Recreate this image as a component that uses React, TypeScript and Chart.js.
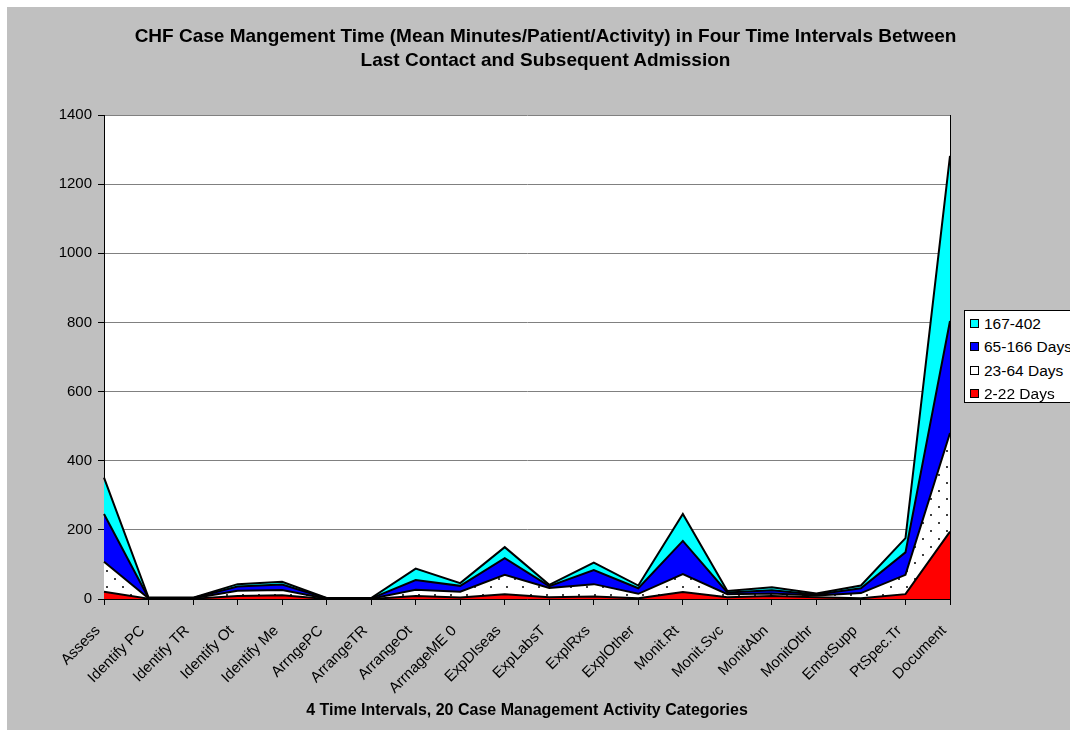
import React, { useEffect, useRef } from "react";
import { Chart, registerables } from "chart.js";

Chart.register(...registerables);

// Activity categories along the x axis
const categories = [
  "Assess", "Identify PC", "Identify TR", "Identify Ot", "Identify Me",
  "ArrngePC", "ArrangeTR", "ArrangeOt", "ArrnageME 0", "ExpDIseas",
  "ExpLabsT", "ExplRxs", "ExplOther", "Monit.Rt", "Monit.Svc",
  "MonitAbn", "MonitOthr", "EmotSupp", "PtSpec.Tr", "Document",
];

// Mean minutes per patient per activity, one array per time interval (stacked)
const days2to22 = [21, 1, 1, 9, 11, 0, 0, 9, 4, 14, 5, 7, 2, 20, 5, 9, 5, 2, 14, 195];
const days23to64 = [87, 1, 1, 15, 15, 1, 1, 18, 17, 56, 27, 36, 13, 52, 9, 7, 5, 15, 56, 285];
const days65to166 = [138, 1, 1, 12, 16, 1, 1, 28, 17, 48, 5, 41, 16, 96, 5, 9, 3, 14, 65, 324];
const days167to402 = [105, 1, 1, 7, 8, 1, 1, 33, 8, 32, 4, 21, 8, 78, 4, 9, 3, 8, 41, 478];

const seriesLabels = ["2-22 Days", "23-64 Days", "65-166 Days", "167-402"];
const yTicks = [0, 200, 400, 600, 800, 1000, 1200, 1400];

const FONT = "'Liberation Sans', Arial, Helvetica, sans-serif";

function makeDotPattern(): CanvasPattern | string {
  const tile = document.createElement("canvas");
  tile.width = 16;
  tile.height = 16;
  const g = tile.getContext("2d");
  if (!g) return "#ffffff";
  g.fillStyle = "#ffffff";
  g.fillRect(0, 0, 16, 16);
  g.fillStyle = "#404040";
  g.fillRect(3, 3, 2, 2);
  g.fillRect(11, 11, 2, 2);
  const p = g.createPattern(tile, "repeat");
  return p || "#ffffff";
}

// White plot background plus the black right edge of the plot frame
const plotFrame = {
  id: "plotFrame",
  beforeDraw(chart: any) {
    const { ctx, chartArea: a } = chart;
    ctx.save();
    ctx.fillStyle = "#ffffff";
    ctx.fillRect(a.left, a.top, a.right - a.left, a.bottom - a.top);
    ctx.restore();
  },
  afterDraw(chart: any) {
    const { ctx, chartArea: a } = chart;
    ctx.save();
    ctx.strokeStyle = "#000000";
    ctx.lineWidth = 1;
    ctx.beginPath();
    ctx.moveTo(Math.round(a.right) + 0.5, a.top);
    ctx.lineTo(Math.round(a.right) + 0.5, a.bottom);
    ctx.stroke();
    ctx.restore();
  },
};

const legendItems = [
  { label: seriesLabels[3], color: "#00ffff" },
  { label: seriesLabels[2], color: "#0000ff" },
  { label: seriesLabels[1], color: "#ffffff" },
  { label: seriesLabels[0], color: "#ff0000" },
];

export default function App() {
  const canvasRef = useRef<HTMLCanvasElement | null>(null);

  useEffect(() => {
    const canvas = canvasRef.current;
    if (!canvas) return;
    const dots = makeDotPattern();
    const common = {
      borderColor: "#000000",
      borderWidth: 2,
      pointRadius: 0,
      pointHoverRadius: 0,
      tension: 0,
    };
    const chart = new Chart(canvas, {
      type: "line",
      data: {
        labels: categories,
        datasets: [
          { ...common, label: seriesLabels[0], data: days2to22, backgroundColor: "#ff0000", fill: "origin" },
          { ...common, label: seriesLabels[1], data: days23to64, backgroundColor: dots as any, fill: "-1" },
          { ...common, label: seriesLabels[2], data: days65to166, backgroundColor: "#0000ff", fill: "-1" },
          { ...common, label: seriesLabels[3], data: days167to402, backgroundColor: "#00ffff", fill: "-1" },
        ],
      },
      options: {
        animation: false,
        responsive: false,
        maintainAspectRatio: false,
        events: [],
        layout: { padding: { top: 108, right: 120, left: 0, bottom: 0 } },
        plugins: {
          legend: { display: false },
          title: { display: false },
          tooltip: { enabled: false },
        },
        scales: {
          x: {
            type: "category",
            offset: false,
            afterFit: (s: any) => { s.height = 131; },
            grid: {
              offset: false,
              drawOnChartArea: false,
              drawTicks: true,
              tickLength: 6,
              tickColor: "#000000",
            },
            border: { color: "#000000", width: 1 },
            ticks: {
              autoSkip: false,
              minRotation: 45,
              maxRotation: 45,
              padding: 17,
              labelOffset: -6,
              color: "#000000",
              font: { family: FONT, size: 15 },
            },
            title: {
              display: true,
              text: "4 Time Intervals, 20 Case Management Activity Categories",
              color: "#000000",
              font: { family: FONT, size: 16, weight: "bold" },
              padding: { top: 0, bottom: 10 },
            },
          },
          y: {
            stacked: true,
            min: 0,
            max: 1400,
            afterFit: (s: any) => { s.width = 97; },
            afterBuildTicks: (s: any) => { s.ticks = yTicks.map((v) => ({ value: v })); },
            grid: {
              color: "#808080",
              lineWidth: 1,
              tickLength: 6,
              tickColor: "#000000",
            },
            border: { color: "#000000", width: 1 },
            ticks: {
              padding: 6,
              color: "#000000",
              font: { family: FONT, size: 15 },
              callback: (v: any) => String(v),
            },
          },
        },
      },
      plugins: [plotFrame],
    });
    return () => chart.destroy();
  }, []);

  return (
    <div
      style={{
        position: "absolute",
        left: 7,
        top: 7,
        width: 1063,
        height: 723,
        background: "#c0c0c0",
        overflow: "hidden",
        fontFamily: FONT,
      }}
    >
      <canvas ref={canvasRef} width={1063} height={723} style={{ position: "absolute", left: 0, top: 0 }} />
      <div
        style={{
          position: "absolute",
          left: 538.5,
          top: 17,
          transform: "translateX(-50%)",
          whiteSpace: "nowrap",
          textAlign: "center",
          fontWeight: "bold",
          fontSize: 19,
          lineHeight: "24px",
          color: "#000",
        }}
      >
        <div>CHF Case Mangement Time (Mean Minutes/Patient/Activity) in Four Time Intervals Between</div>
        <div>Last Contact and Subsequent Admission</div>
      </div>
      <div
        style={{
          position: "absolute",
          left: 957,
          top: 303,
          width: 130,
          height: 93,
          background: "#fff",
          border: "1px solid #000",
          boxSizing: "border-box",
          paddingTop: 1,
        }}
      >
        {legendItems.map((it) => (
          <div key={it.label} style={{ position: "relative", height: 23.3, whiteSpace: "nowrap" }}>
            <span
              style={{
                position: "absolute",
                left: 5,
                top: 7,
                width: 9,
                height: 9,
                background: it.color,
                border: "1px solid #000",
                boxSizing: "border-box",
              }}
            />
            <span
              style={{
                position: "absolute",
                left: 19,
                top: 0,
                fontSize: 15.5,
                lineHeight: "23px",
                color: "#000",
              }}
            >
              {it.label}
            </span>
          </div>
        ))}
      </div>
    </div>
  );
}
